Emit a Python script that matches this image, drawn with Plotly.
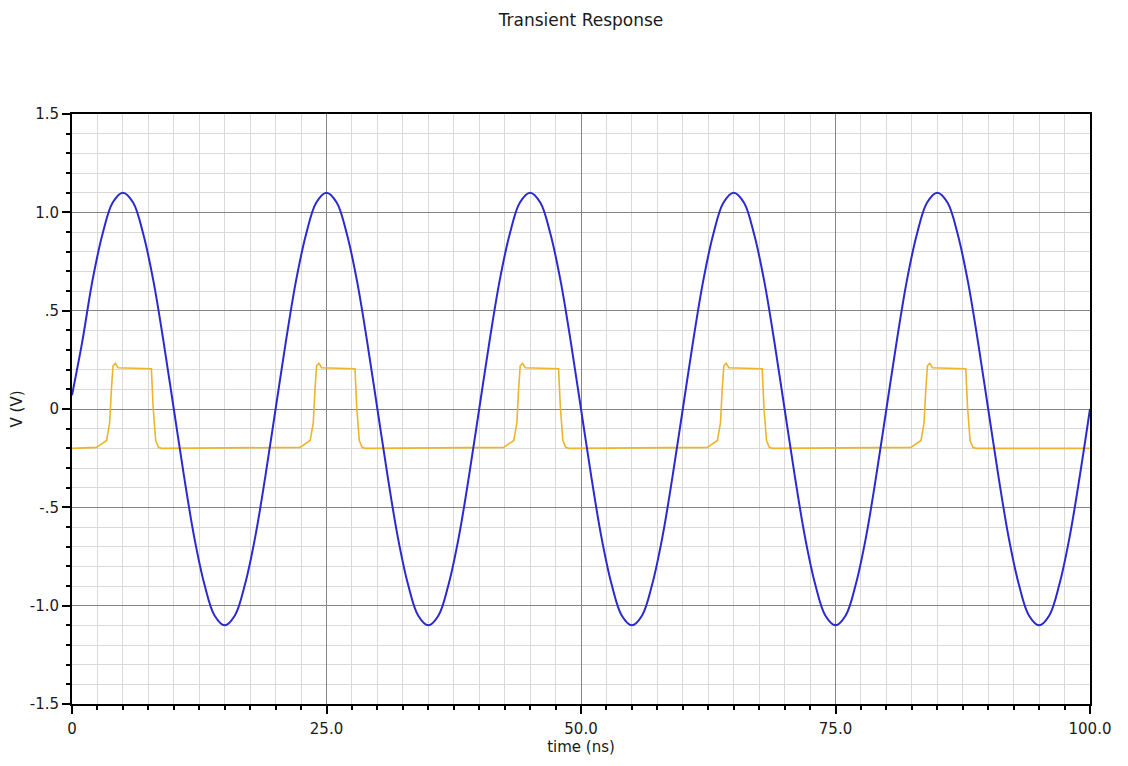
import plotly.graph_objects as go

# ---- data ----
time_ns = list(range(0, 101))
v_sine = [
    0.07, 0.34, 0.65, 0.89, 1.05, 1.10, 1.05, 0.89, 0.65, 0.34,
    0.00, -0.34, -0.65, -0.89, -1.05, -1.10, -1.05, -0.89, -0.65, -0.34,
    0.00, 0.34, 0.65, 0.89, 1.05, 1.10, 1.05, 0.89, 0.65, 0.34,
    0.00, -0.34, -0.65, -0.89, -1.05, -1.10, -1.05, -0.89, -0.65, -0.34,
    0.00, 0.34, 0.65, 0.89, 1.05, 1.10, 1.05, 0.89, 0.65, 0.34,
    0.00, -0.34, -0.65, -0.89, -1.05, -1.10, -1.05, -0.89, -0.65, -0.34,
    0.00, 0.34, 0.65, 0.89, 1.05, 1.10, 1.05, 0.89, 0.65, 0.34,
    0.00, -0.34, -0.65, -0.89, -1.05, -1.10, -1.05, -0.89, -0.65, -0.34,
    0.00, 0.34, 0.65, 0.89, 1.05, 1.10, 1.05, 0.89, 0.65, 0.34,
    0.00, -0.34, -0.65, -0.89, -1.05, -1.10, -1.05, -0.89, -0.65, -0.34,
    0.00,
]

pulse_t = [
    0.0, 2.4, 3.4, 3.7, 3.87, 4.03, 4.26, 4.52, 7.8, 7.97, 8.22, 8.5, 8.8,
    22.4, 23.4, 23.7, 23.87, 24.03, 24.26, 24.52, 27.8, 27.97, 28.22, 28.5, 28.8,
    42.4, 43.4, 43.7, 43.87, 44.03, 44.26, 44.52, 47.8, 47.97, 48.22, 48.5, 48.8,
    62.4, 63.4, 63.7, 63.87, 64.03, 64.26, 64.52, 67.8, 67.97, 68.22, 68.5, 68.8,
    82.4, 83.4, 83.7, 83.87, 84.03, 84.26, 84.52, 87.8, 87.97, 88.22, 88.5, 88.8,
    100.0,
]
pulse_v = [
    -0.20, -0.195, -0.16, -0.07, 0.10, 0.22, 0.232, 0.21, 0.205, 0.01, -0.16, -0.195, -0.20,
    -0.195, -0.16, -0.07, 0.10, 0.22, 0.232, 0.21, 0.205, 0.01, -0.16, -0.195, -0.20,
    -0.195, -0.16, -0.07, 0.10, 0.22, 0.232, 0.21, 0.205, 0.01, -0.16, -0.195, -0.20,
    -0.195, -0.16, -0.07, 0.10, 0.22, 0.232, 0.21, 0.205, 0.01, -0.16, -0.195, -0.20,
    -0.195, -0.16, -0.07, 0.10, 0.22, 0.232, 0.21, 0.205, 0.01, -0.16, -0.195, -0.20,
    -0.20,
]

x_tickvals = [0, 25, 50, 75, 100]
x_ticktext = ["0", "25.0", "50.0", "75.0", "100.0"]
y_tickvals = [1.5, 1.0, 0.5, 0, -0.5, -1.0, -1.5]
y_ticktext = ["1.5", "1.0", ".5", "0", "-.5", "-1.0", "-1.5"]

FONT = "DejaVu Sans"
TXT = "#1a1a1a"

fig = go.Figure()
fig.add_trace(go.Scatter(x=pulse_t, y=pulse_v, mode="lines",
                         line=dict(color="#eeb42a", width=1.6),
                         showlegend=False))
fig.add_trace(go.Scatter(x=time_ns, y=v_sine, mode="lines",
                         line=dict(color="#2a2ad0", width=2, shape="spline",
                                   smoothing=1.0),
                         showlegend=False))

fig.update_layout(
    width=1128, height=766,
    margin=dict(l=64, r=46, t=106, b=70),
    paper_bgcolor="white", plot_bgcolor="white",
    font=dict(family=FONT, size=15, color=TXT),
    title=dict(text="Transient Response", x=(64 + 1018 / 2) / 1128,
               xanchor="center", y=1 - 12 / 766, yref="container",
               yanchor="middle",
               font=dict(family=FONT, size=17, color=TXT)),
)

fig.update_xaxes(
    range=[0, 100], tickmode="array", tickvals=x_tickvals, ticktext=x_ticktext,
    showline=True, mirror=True, linecolor="black", linewidth=2,
    ticks="outside", ticklen=8, tickwidth=2, tickcolor="black",
    showgrid=True, gridcolor="#858585", gridwidth=1, zeroline=False,
    minor=dict(tickmode="linear", tick0=0, dtick=2.5, ticks="outside",
               ticklen=4, tickwidth=2, tickcolor="black",
               showgrid=True, gridcolor="#d9d9d9", gridwidth=1),
    tickfont=dict(family=FONT, size=15, color=TXT),
    ticklabelstandoff=2,
    title=dict(text="time (ns)", standoff=2,
               font=dict(family=FONT, size=15, color=TXT)),
    automargin=False,
)
fig.update_yaxes(
    range=[-1.5, 1.5], tickmode="array", tickvals=y_tickvals, ticktext=y_ticktext,
    showline=True, mirror=True, linecolor="black", linewidth=2,
    ticks="outside", ticklen=8, tickwidth=2, tickcolor="black",
    showgrid=True, gridcolor="#858585", gridwidth=1, zeroline=False,
    minor=dict(tickmode="linear", tick0=0, dtick=0.1, ticks="outside",
               ticklen=4, tickwidth=2, tickcolor="black",
               showgrid=True, gridcolor="#d9d9d9", gridwidth=1),
    tickfont=dict(family=FONT, size=15, color=TXT),
    title=dict(text="V (V)", standoff=8,
               font=dict(family=FONT, size=15, color=TXT)),
    automargin=False,
)

fig.write_html("out.html")
